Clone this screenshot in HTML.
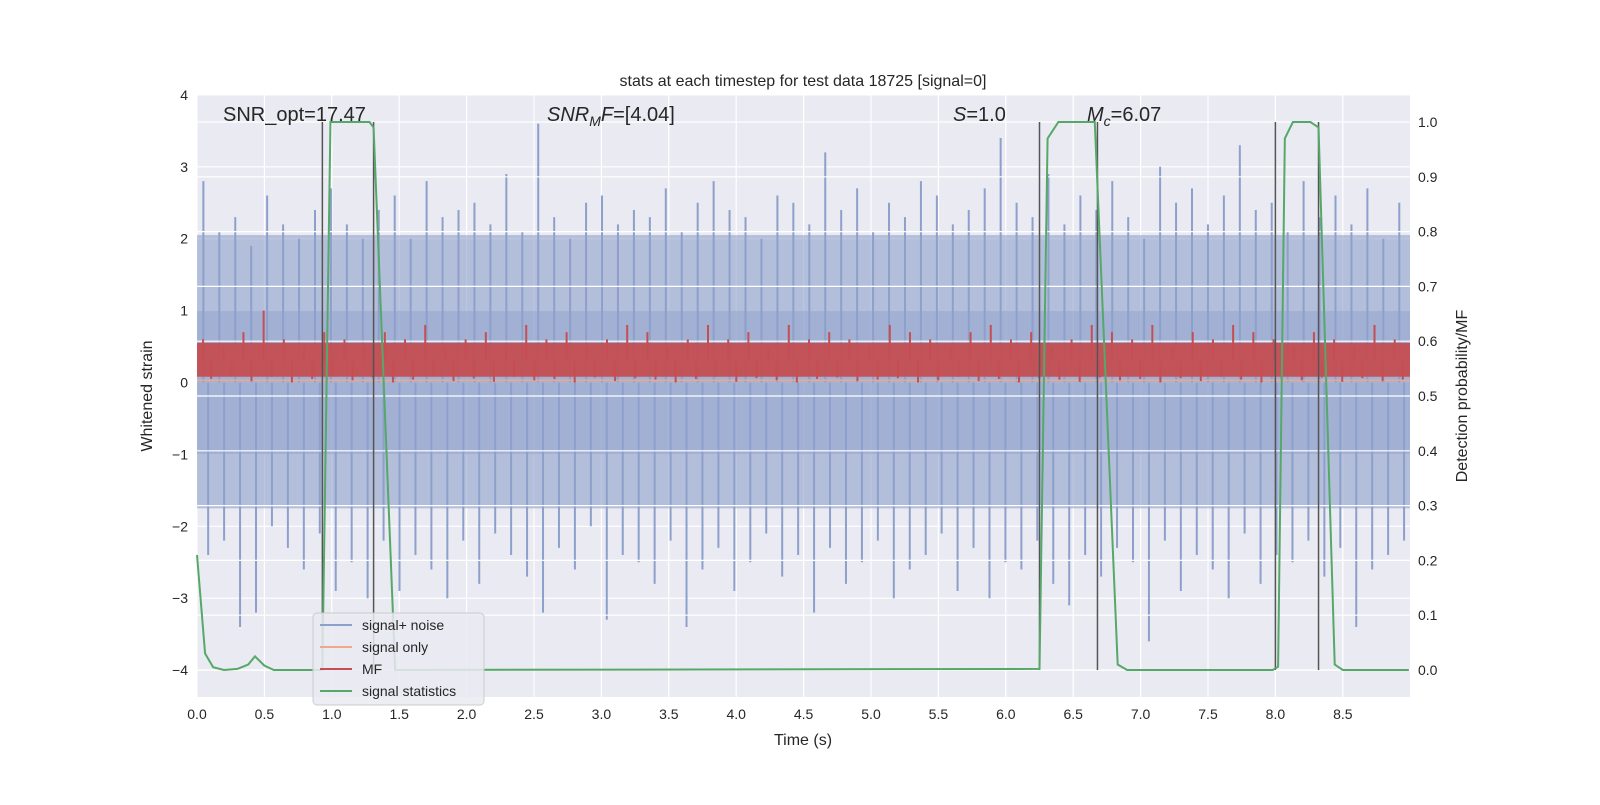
<!DOCTYPE html>
<html><head><meta charset="utf-8">
<style>
body{margin:0;background:#fff;}
svg text{font-family:"Liberation Sans","DejaVu Sans",sans-serif;fill:#262626;}
</style></head>
<body>
<svg id="chart" width="1600" height="800" xmlns="http://www.w3.org/2000/svg">
<rect x="197" y="95" width="1213" height="602" fill="#eaeaf2"/>
<g id="grid"></g>
<g id="marks"></g>
<g id="axes"></g>
<text x="803" y="86" font-size="16" text-anchor="middle">stats at each timestep for test data 18725 [signal=0]</text>
<text x="223" y="121" font-size="20">SNR_opt=17.47</text>
<text x="547" y="121" font-size="20"><tspan font-style="italic">SNR</tspan><tspan font-style="italic" font-size="14" dy="5">M</tspan><tspan font-style="italic" dy="-5">F</tspan>=[4.04]</text>
<text x="953" y="121" font-size="20"><tspan font-style="italic">S</tspan>=1.0</text>
<text x="1087" y="121" font-size="20"><tspan font-style="italic">M</tspan><tspan font-style="italic" font-size="14" dy="5">c</tspan><tspan dy="-5">=6.07</tspan></text>
<text x="803" y="745" font-size="16" text-anchor="middle">Time (s)</text>
<text transform="translate(152,396) rotate(-90)" font-size="16" text-anchor="middle">Whitened strain</text>
<text transform="translate(1467,396) rotate(-90)" font-size="16" text-anchor="middle">Detection probability/MF</text>
<g>
<rect x="313" y="613" width="171" height="92" rx="4" fill="#eaeaf2" fill-opacity="0.85" stroke="#cccccc"/>
<line x1="320" y1="625" x2="352" y2="625" stroke="#8da0cb" stroke-width="2"/>
<text x="362" y="630" font-size="14">signal+ noise</text>
<line x1="320" y1="647" x2="352" y2="647" stroke="#f0a88a" stroke-width="2"/>
<text x="362" y="652" font-size="14">signal only</text>
<line x1="320" y1="669" x2="352" y2="669" stroke="#c44e52" stroke-width="2"/>
<text x="362" y="674" font-size="14">MF</text>
<line x1="320" y1="691" x2="352" y2="691" stroke="#55a868" stroke-width="2"/>
<text x="362" y="696" font-size="14">signal statistics</text>
</g>
</svg>
<script>
const xTicks=[0,0.5,1,1.5,2,2.5,3,3.5,4,4.5,5,5.5,6,6.5,7,7.5,8,8.5];
const yTicks=[-4,-3,-2,-1,0,1,2,3,4];
const rTicks=[0,0.1,0.2,0.3,0.4,0.5,0.6,0.7,0.8,0.9,1.0];
const noiseUp=[2.8,2.1,2.3,1.9,2.6,2.2,2.0,2.4,2.7,2.2,2.0,2.4,2.6,2.0,2.8,2.3,2.4,2.5,2.2,2.9,2.1,3.6,2.3,2.0,2.5,2.6,2.2,2.4,2.3,2.7,2.1,2.5,2.8,2.4,2.3,2.0,2.6,2.5,2.2,3.2,2.4,2.7,2.1,2.5,2.3,2.8,2.6,2.2,2.4,2.7,3.4,2.5,2.3,2.9,2.2,2.6,2.4,2.8,2.3,2.0,3.0,2.5,2.7,2.2,2.6,3.3,2.4,2.5,2.1,2.8,2.3,2.6,2.2,2.7,2.0,2.5];
const noiseDown=[-2.4,-2.2,-3.4,-3.2,-2.0,-2.3,-2.6,-2.1,-2.9,-2.5,-3.0,-2.2,-2.9,-2.4,-2.6,-3.0,-2.2,-2.8,-2.1,-2.4,-2.7,-3.2,-2.3,-2.6,-2.0,-3.3,-2.4,-2.5,-2.8,-2.2,-3.4,-2.6,-2.3,-2.9,-2.5,-2.1,-2.7,-2.4,-3.2,-2.3,-2.8,-2.5,-2.2,-3.0,-2.6,-2.4,-2.1,-2.9,-2.3,-3.0,-2.5,-2.6,-2.2,-2.8,-3.1,-2.4,-2.7,-2.3,-2.5,-3.6,-2.2,-2.9,-2.4,-2.6,-3.0,-2.1,-2.8,-2.4,-2.5,-2.2,-2.7,-2.3,-3.4,-2.6,-2.4,-2.2];
const mfUp=[0.6,0.5,0.7,1.0,0.6,0.5,0.7,0.6,0.5,0.7,0.6,0.8,0.5,0.6,0.7,0.5,0.8,0.6,0.7,0.5,0.6,0.8,0.7,0.5,0.6,0.8,0.6,0.7,0.5,0.8,0.6,0.7,0.6,0.5,0.8,0.7,0.6,0.5,0.7,0.8,0.6,0.7,0.5,0.6,0.8,0.7,0.6,0.8,0.5,0.7,0.6,0.8,0.7,0.6,0.5,0.7,0.6,0.5,0.8,0.6];
const mfDown=[0.05,0.1,0.02,0.08,0.0,0.05,0.1,0.03,0.07,0.0,0.04,0.09,0.02,0.06,0.01,0.08,0.03,0.05,0.0,0.07,0.02,0.06,0.04,0.0,0.05,0.08,0.01,0.06,0.03,0.0,0.05,0.07,0.02,0.04,0.06,0.0,0.03,0.08,0.02,0.05,0.0,0.06,0.04,0.01,0.07,0.03,0.05,0.0,0.06,0.02,0.08,0.04,0.0,0.05,0.03,0.07,0.01,0.06,0.02,0.04];
const statT=[0,0.06,0.12,0.2,0.3,0.38,0.43,0.5,0.57,0.93,0.99,1.28,1.31,1.47,6.25,6.31,6.39,6.66,6.83,6.9,7.98,8.02,8.07,8.13,8.26,8.32,8.44,8.5,8.99];
const statV=[0.21,0.03,0.005,0.0,0.002,0.01,0.025,0.008,0.0,0.0,1.0,1.0,0.99,0.0,0.002,0.97,1.0,1.0,0.01,0.0,0.0,0.006,0.97,1.0,1.0,0.99,0.01,0.0,0.0];
const eventT=[0.93,1.31,6.25,6.68,8.0,8.32];
const X=t=>197+t*134.8;
const Y=v=>382.5-v*71.9;
const R=v=>670-v*548;
const NS="http://www.w3.org/2000/svg";
function mk(tag,attrs,parent){const e=document.createElementNS(NS,tag);for(const k in attrs)e.setAttribute(k,attrs[k]);document.getElementById(parent).appendChild(e);return e;}
yTicks.forEach(v=>{const l=mk('line',{x1:197,x2:1410,y1:Y(v),y2:Y(v),stroke:'#fff','stroke-width':1.2},'grid');


const t=mk('text',{x:188,y:Y(v)+5,'font-size':14,'text-anchor':'end'},'axes');t.textContent=(v<0?'\u2212'+(-v):v);

});
rTicks.forEach(v=>{const t=mk('text',{x:1418,y:R(v)+5,'font-size':14},'axes');t.textContent=v.toFixed(1);

});
xTicks.forEach(v=>{const l=mk('line',{x1:X(v),x2:X(v),y1:95,y2:697,stroke:'#fff','stroke-width':1.2},'grid');


const t=mk('text',{x:X(v),y:719,'font-size':14,'text-anchor':'middle'},'axes');t.textContent=v.toFixed(1);

});
// noise band
let b=mk('rect',{x:197,y:Y(2.05),width:1213,height:Y(-1.75)-Y(2.05),fill:'#8da0cb','fill-opacity':0.6},'marks');


b=mk('rect',{x:197,y:Y(1.0),width:1213,height:Y(-1.0)-Y(1.0),fill:'#8da0cb','fill-opacity':0.45},'marks');


const dt=8.99/noiseUp.length;
noiseUp.forEach((v,i)=>{const l=mk('line',{x1:X(i*dt+dt*0.4),x2:X(i*dt+dt*0.4),y1:Y(0),y2:Y(v),stroke:'#8da0cb','stroke-width':2},'marks');

});
noiseDown.forEach((v,i)=>{const l=mk('line',{x1:X(i*dt+dt*0.7),x2:X(i*dt+dt*0.7),y1:Y(0),y2:Y(v),stroke:'#8da0cb','stroke-width':2},'marks');

});
// right-axis gridlines drawn over noise (as in reference)
rTicks.forEach(v=>{const l=mk('line',{x1:197,x2:1410,y1:R(v),y2:R(v),stroke:'#fff','stroke-width':1.2},'marks');

});
// signal only
let s=mk('line',{x1:197,x2:1410,y1:Y(0.03),y2:Y(0.03),stroke:'#f0a88a','stroke-width':1.5},'marks');


// MF band
b=mk('rect',{x:197,y:Y(0.55),width:1213,height:Y(0.08)-Y(0.55),fill:'#c44e52','fill-opacity':0.95},'marks');


const mt=8.99/mfUp.length;
mfUp.forEach((v,i)=>{const l=mk('line',{x1:X(i*mt+mt*0.3),x2:X(i*mt+mt*0.3),y1:Y(0.3),y2:Y(v),stroke:'#c44e52','stroke-width':2},'marks');

});
mfDown.forEach((v,i)=>{const l=mk('line',{x1:X(i*mt+mt*0.7),x2:X(i*mt+mt*0.7),y1:Y(0.3),y2:Y(v),stroke:'#c44e52','stroke-width':2},'marks');

});
// event lines
eventT.forEach(t=>{const l=mk('line',{x1:X(t),x2:X(t),y1:R(1),y2:R(0),stroke:'#555','stroke-width':1.5},'marks');

});
// stats
const p=mk('polyline',{points:statT.map((t,i)=>X(t)+','+R(statV[i])).join(' '),fill:'none',stroke:'#55a868','stroke-width':2},'marks');


</script>
</body></html>
